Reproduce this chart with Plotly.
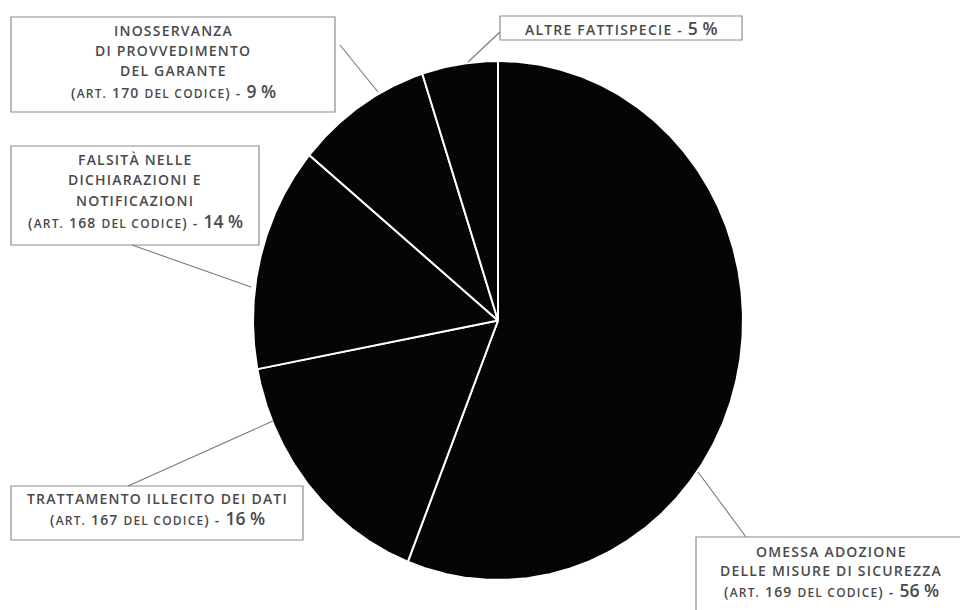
import numpy as np
import plotly.graph_objects as go

# --- data -------------------------------------------------------------
categories = [
    "Omessa adozione delle misure di sicurezza",
    "Trattamento illecito dei dati",
    "Falsità nelle dichiarazioni e notificazioni",
    "Inosservanza di provvedimento del Garante",
    "Altre fattispecie",
]
shares = [56, 16, 14, 9, 5]          # percent, clockwise from 12 o'clock
articles = ["169", "167", "168", "170", None]
title_lines = [
    ["OMESSA ADOZIONE", "DELLE MISURE DI SICUREZZA"],
    ["TRATTAMENTO ILLECITO DEI DATI"],
    ["FALSITÀ NELLE", "DICHIARAZIONI E", "NOTIFICAZIONI"],
    ["INOSSERVANZA", "DI PROVVEDIMENTO", "DEL GARANTE"],
    ["ALTRE FATTISPECIE"],
]

# --- styling / layout (pixel space, origin top-left) ------------------
W, H = 960, 610
CX, CY, RX, RY = 498, 320.5, 245, 259.5
FONT = "Open Sans"
TXT = "#4a4a4a"
BOX = "#8c8c8c"
BASE, SMALL, BIG = 14, 12, 17.5
TRACK = 1.2   # letter spacing, px

# box (x0, y0, x1, y1), text centre x, first line y, line step, leader (x0,y0,x1,y1)
label_layout = [
    dict(box=(696, 537, 975, 625), cx=831, y=551, step=19.5, leader=(746, 537, 698, 472)),
    dict(box=(11, 486, 303, 540), cx=157, y=498, step=20, leader=(128, 486, 273, 421)),
    dict(box=(11, 146, 259, 245), cx=135, y=159, step=20.5, leader=(132, 245, 251, 287)),
    dict(box=(11, 17, 335, 112), cx=173, y=30, step=20.3, leader=(340, 45, 378, 92)),
    dict(box=(500, 16, 742, 40), cx=621, y=28, step=20, leader=(500, 32, 468, 62)),
]


def small(s):
    return f"<span style='font-size:{SMALL}px'>{s}</span>"


def big(s):
    return f"<span style='font-size:{BIG}px'>{s}</span>"


def tracked(s):
    return f"<span style='letter-spacing:{TRACK}px'>{s}</span>"


fig = go.Figure()

# pie wedges drawn as filled polygons on an elliptical footprint
start = 0.0
total = float(sum(shares))
for cat, v in zip(categories, shares):
    sweep = 2 * np.pi * v / total
    th = np.linspace(start, start + sweep, max(int(v * 8), 20))
    xs = np.concatenate([[CX], CX + RX * np.sin(th), [CX]])
    ys = np.concatenate([[CY], CY - RY * np.cos(th), [CY]])
    fig.add_trace(go.Scatter(
        x=xs, y=ys, mode="lines", fill="toself",
        fillcolor="#050505", line=dict(color="white", width=2),
        name=cat, hoverinfo="name", showlegend=False,
    ))
    start += sweep

shapes = []
annotations = []
for lines, art, v, lay in zip(title_lines, articles, shares, label_layout):
    x0, y0, x1, y1 = lay["box"]
    shapes.append(dict(type="rect", xref="x", yref="y", x0=x0, y0=y0, x1=x1, y1=y1,
                       line=dict(color=BOX, width=1.2), fillcolor="rgba(0,0,0,0)",
                       layer="above"))
    lx0, ly0, lx1, ly1 = lay["leader"]
    shapes.append(dict(type="line", xref="x", yref="y", x0=lx0, y0=ly0, x1=lx1, y1=ly1,
                       line=dict(color="#7a7a7a", width=1.1), layer="above"))
    texts = [tracked(t) for t in lines]
    if art is None:
        texts[-1] = tracked(lines[-1] + " - ") + big(f"{v} %")
    else:
        texts.append(tracked("(" + small("ART.") + f" {art} " + small("DEL CODICE") + ") - ")
                     + big(f"{v} %"))
    for i, t in enumerate(texts):
        annotations.append(dict(
            xref="x", yref="y", x=lay["cx"], y=lay["y"] + i * lay["step"],
            text=t, showarrow=False, xanchor="center", yanchor="middle",
            font=dict(family=FONT, size=BASE, color=TXT, weight=600),
        ))

fig.update_layout(
    width=W, height=H,
    margin=dict(l=0, r=0, t=0, b=0),
    paper_bgcolor="white", plot_bgcolor="white",
    xaxis=dict(range=[0, W], visible=False, fixedrange=True),
    yaxis=dict(range=[H, 0], visible=False, fixedrange=True),
    shapes=shapes, annotations=annotations,
    showlegend=False,
)

fig.write_html("out.html")
